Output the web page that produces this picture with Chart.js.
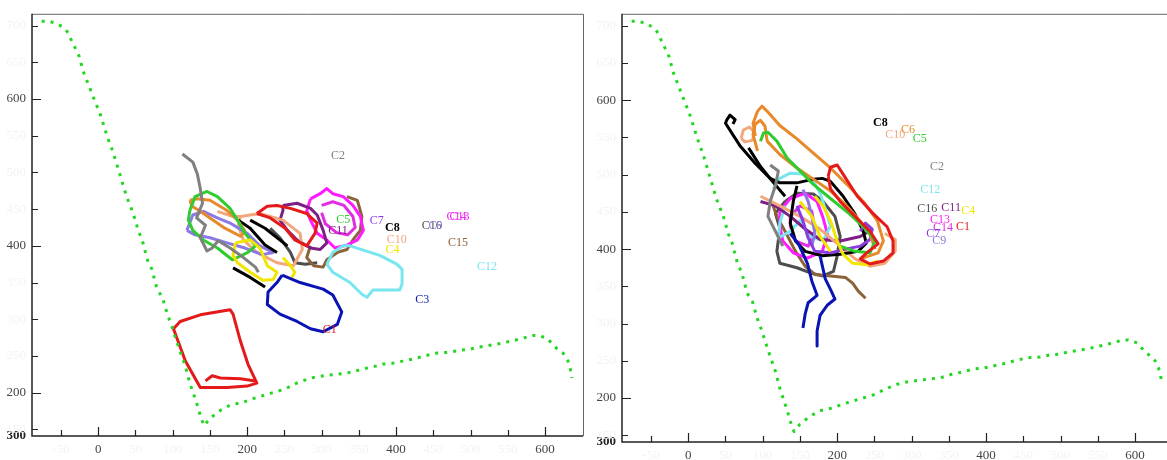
<!DOCTYPE html>
<html>
<head>
<meta charset="utf-8">
<script src="https://cdn.jsdelivr.net/npm/chart.js@4.4.1/dist/chart.umd.min.js"></script>
<style>
  html, body { margin: 0; padding: 0; background: #fff; overflow: hidden; width: 1167px; height: 460px; }
  .panel { position: absolute; top: 0; width: 590px; height: 460px; }
  #left { left: 0; }
  #right { left: 590px; }
</style>
</head>
<body>
<div class="panel" id="left"><canvas id="chartLeft" width="590" height="460"></canvas></div>
<div class="panel" id="right"><canvas id="chartRight" width="590" height="460"></canvas></div>
<script>
// axis ranges and ticks (same for both panels)
const xMin = -89, xMax = 651;
const yMin = 141, yMax = 716;
const xTickValues = [-50, 0, 50, 100, 150, 200, 250, 300, 350, 400, 450, 500, 550, 600];
const xMajor = [0, 200, 400, 600];
const yTickValues = [150, 200, 250, 300, 350, 400, 450, 500, 550, 600, 650, 700];
const yMajor = [200, 400, 600];
const yBottomLabel = '300';

const names = ['C1','C2','C3','C4','C5','C6','C7','C8','C9','C10','C11','C12','C13','C14','C15','C16'];
const colors = ['#e41a1a','#808080','#0a14b4','#f2e600','#2ecc2e','#e8892a','#8a3ce0','#000000',
                '#8c78e6','#f2a77c','#7d1f86','#78e6ee','#ff1aff','#e22ee2','#8c6239','#4d4d4d'];

// green field edge, drawn in both panels
const fieldEdge = [[-76,706],[-67,706],[-60,704],[-53,701],[-46,697],[-42,692],[-38,684],[-26,659],[-20,637],
  [-13,619],[-6,601],[3,578],[12,549],[20,527],[30,494],[38,467],[47,444],[54,420],[59,408],[66,381],[72,368],
  [79,341],[86,330],[93,306],[99,290],[103,277],[110,256],[117,236],[123,213],[133,183],[137,169],[142,155],
  [150,165],[164,176],[177,183],[195,187],[208,192],[231,199],[251,205],[264,212],[282,219],[295,222],[311,224],
  [328,226],[341,228],[354,232],[368,235],[383,239],[395,240],[409,243],[423,246],[442,251],[455,254],[472,255],
  [486,258],[499,259],[510,262],[523,264],[540,267],[553,270],[562,272],[573,275],[584,278],[591,278],[603,274],
  [609,267],[616,260],[624,254],[630,246],[634,232],[636,220]];

// left panel tracks (each is a list of strokes)
const leftC1 = [
  [[213,444],[227,454],[240,455],[258,451],[280,444],[294,431],[291,417],[280,400],[264,408],[251,424],[231,438],[213,444]],
  [[101,287],[110,297],[137,306],[177,313],[181,307],[191,270],[201,239],[213,213],[200,209],[173,207],[137,207],[117,243],[101,287]],
  [[144,216],[153,223],[164,220],[191,219],[211,216]]];
const leftC2 = [[[113,525],[127,514],[133,498],[137,478],[140,458],[132,438],[144,428],[137,411],[146,393],[153,397],[161,407],[177,397],[195,384],[211,371],[215,364]]];
const leftC3 = [[[247,360],[271,350],[302,341],[315,333],[327,310],[321,293],[302,283],[285,287],[267,297],[244,307],[227,320],[228,337],[240,350],[247,360]]];
const leftC4 = [[[184,404],[181,387],[187,377],[204,364],[221,353],[235,354],[240,364],[227,373],[217,397],[204,408],[184,404]],
  [[248,384],[258,373],[264,364],[260,357]]];
const leftC5 = [[[123,448],[130,467],[146,474],[160,467],[177,451],[187,435],[197,417],[211,400],[201,391],[180,381],[160,397],[141,408],[127,421],[121,435],[123,448]]];
const leftC6 = [[[123,462],[133,464],[150,462],[173,448],[187,435],[197,420],[191,413],[170,424],[150,438],[137,447],[126,454],[123,462]]];
const leftC7 = [];
const leftC8 = [[[188,435],[204,424],[224,401],[240,391]], [[204,435],[224,424],[254,400]], [[181,370],[204,357],[224,344]]];
const leftC9 = [[[119,421],[127,442],[141,447],[160,438],[177,431],[200,417],[217,400],[235,391],[220,388],[197,397],[173,404],[150,411],[130,415],[119,421]]];
const leftC10 = [[[160,447],[181,440],[191,440],[217,444],[248,435],[271,417],[274,395],[262,373],[240,377],[213,391],[195,408],[188,427],[191,440]]];
const leftC11 = [[[248,455],[267,458],[285,451],[294,442],[302,421],[307,404],[298,395],[285,397],[267,408],[254,421],[244,435],[248,448],[248,455]]];
const leftC12 = [[[307,375],[315,391],[329,400],[338,400],[378,387],[401,375],[408,368],[408,348],[405,340],[369,340],[361,330],[354,334],[338,350],[315,364],[307,375]]];
const leftC13 = [[[285,464],[298,471],[307,478],[315,471],[329,467],[342,455],[352,440],[356,421],[348,408],[334,401],[318,397],[307,408],[294,417],[285,435],[280,448],[285,464]]];
const leftC14 = [[[300,455],[315,460],[330,455],[342,440],[345,425],[335,415],[320,418],[305,430],[300,445]]];
const leftC15 = [[[334,467],[348,462],[354,440],[352,421],[342,408],[334,395],[321,391],[307,381],[302,371],[289,373],[280,384],[285,400]]];
const leftC16 = [[[231,424],[244,411],[258,391],[264,377],[278,375],[294,377]]];

// right panel tracks
const rightC1 = [[[188,498],[191,510],[200,513],[207,502],[227,471],[248,448],[267,430],[275,411],[275,395],[262,384],[244,380],[231,387],[242,397],[255,407],[244,424],[224,444],[204,464],[191,481],[188,498]]];
const rightC2 = [[[110,513],[121,505],[117,485],[110,464],[107,444],[117,424],[127,404]]];
const rightC3 = [[[137,421],[148,407],[160,381],[166,357],[173,338],[161,328],[157,313],[154,294]],
  [[177,391],[184,360],[191,346],[197,333],[187,325],[177,311],[173,290],[173,270]]];
const rightC4 = [[[170,471],[181,458],[191,438],[200,411],[208,393],[221,381],[240,379],[255,384]], [[150,464],[166,444],[177,417],[191,397]]];
const rightC5 = [[[97,545],[101,556],[107,557],[119,545],[133,522],[150,505],[168,487],[191,468],[217,447],[238,427],[251,411],[244,395],[224,397],[204,404]]];
const rightC6 = [[[90,552],[87,569],[93,585],[99,592],[106,585],[123,566],[146,548],[168,529],[191,509],[213,487],[235,464],[254,438],[262,411],[255,395],[234,388]],
  [[93,532],[87,554],[90,568],[97,573],[103,565],[106,545],[123,527],[146,509],[168,494],[191,478],[211,460],[227,442],[244,420],[251,400]]];
const rightC7 = [[[146,458],[154,438],[161,415],[170,397],[191,395],[211,400],[231,404],[244,413],[247,427],[238,435],[231,424]]];
const rightC8 = [[[60,568],[63,574],[56,580],[52,574],[50,569],[70,538],[90,515],[110,495],[123,489],[146,489],[168,494],[180,495],[191,491],[208,471],[224,447],[235,424],[239,408],[228,397],[204,393],[180,391],[157,397],[144,411],[137,435],[141,464],[146,485]],
  [[81,536],[97,511],[113,491],[130,471]]];
const rightC9 = [[[154,480],[161,464],[166,444],[170,421],[166,404]]];
const rightC10 = [[[71,549],[74,560],[82,564],[89,557],[86,546],[76,544],[71,549]],
  [[97,471],[123,458],[150,444],[177,427],[204,404],[224,387],[244,377],[264,381],[278,397],[278,413],[264,421]]];
const rightC11 = [[[97,464],[117,458],[137,444],[157,427],[177,413],[204,411],[231,417],[248,427]]];
const rightC12 = [[[114,481],[123,495],[137,502],[154,501],[168,491],[177,475],[185,451],[191,431],[181,411],[164,417],[150,438],[137,424],[121,415],[123,435],[130,458]]];
const rightC13 = [[[123,451],[137,468],[157,475],[173,464],[181,442],[187,420],[180,397],[160,388],[141,395],[127,411],[123,431],[123,451]]];
const rightC14 = [[[137,444],[150,458],[166,451],[170,424],[161,404],[144,411],[137,431],[137,444]]];
const rightC15 = [[[114,458],[119,444],[130,424],[144,397],[157,377],[170,366],[191,364],[211,362],[221,354],[228,344],[238,334]]];
const rightC16 = [[[130,464],[146,475],[168,474],[181,464],[197,444],[204,417],[200,391],[195,370],[181,364],[164,368],[146,375],[123,381],[119,397],[123,428],[117,448],[130,464]]];

// track name labels, in data units
const leftLabels = [['C2',322,523],['C8',395,425],['C10',401,408],['C4',395,395],['C16',448,427],['C9',453,427],
  ['C14',481,440],['C13',485,440],['C15',483,404],['C12',522,372],['C3',435,326],['C5',329,435],['C11',322,421],
  ['C7',374,434],['C1',311,286]];
const rightLabels = [['C8',258,570],['C10',278,554],['C6',295,560],['C5',311,548],['C2',334,510],['C12',325,479],
  ['C16',321,454],['C11',353,456],['C4',376,452],['C13',338,439],['C14',342,428],['C1',369,430],['C7',329,421],['C9',337,411]];

const leftTracks = [leftC1,leftC2,leftC3,leftC4,leftC5,leftC6,leftC7,leftC8,leftC9,leftC10,leftC11,leftC12,leftC13,leftC14,leftC15,leftC16];
const rightTracks = [rightC1,rightC2,rightC3,rightC4,rightC5,rightC6,rightC7,rightC8,rightC9,rightC10,rightC11,rightC12,rightC13,rightC14,rightC15,rightC16];

const SERIF = '"Liberation Serif", "DejaVu Serif", serif';
const FAINT = '#f3f3f3';
const toXY = pts => pts.map(p => ({ x: p[0], y: p[1] }));
const tickVal = c => (c && c.tick ? c.tick.value : null);

function buildDatasets(tracks) {
  const sets = [{
    data: toXY(fieldEdge), borderColor: '#22d622', borderWidth: 3,
    borderDash: [3, 6], borderCapStyle: 'butt'
  }];
  tracks.forEach((strokes, i) => {
    strokes.forEach(s => sets.push({ data: toXY(s), borderColor: colors[i], borderWidth: 3 }));
  });
  return sets;
}

const framePlugin = {
  id: 'frame',
  afterDatasetsDraw(chart, args, opts) {
    const { ctx, chartArea: a, scales: { x, y } } = chart;
    ctx.save();
    ctx.strokeStyle = '#666';
    ctx.lineWidth = 1;
    ctx.beginPath();
    ctx.moveTo(a.left, a.top + 0.5);
    ctx.lineTo(a.right + 0.5, a.top + 0.5);
    ctx.lineTo(a.right + 0.5, a.bottom);
    ctx.stroke();

    ctx.strokeStyle = '#222';
    ctx.lineWidth = 1.5;
    ctx.beginPath();
    ctx.moveTo(a.left, a.top);
    ctx.lineTo(a.left, a.bottom);
    ctx.lineTo(a.right, a.bottom);
    ctx.stroke();

    // inward tick marks
    ctx.lineWidth = 1.2;
    ctx.beginPath();
    xTickValues.forEach(v => {
      const px = Math.round(x.getPixelForValue(v)) + 0.5;
      const len = xMajor.includes(v) ? 9 : 6;
      ctx.moveTo(px, a.bottom);
      ctx.lineTo(px, a.bottom - len);
    });
    yTickValues.forEach(v => {
      const py = Math.round(y.getPixelForValue(v)) + 0.5;
      const len = yMajor.includes(v) ? 9 : 6;
      ctx.moveTo(a.left, py);
      ctx.lineTo(a.left + len, py);
    });
    ctx.stroke();

    // track labels
    ctx.textAlign = 'center';
    ctx.textBaseline = 'middle';
    opts.labels.forEach(([name, lx, ly]) => {
      const i = names.indexOf(name);
      ctx.font = (name === 'C8' ? 'bold ' : '') + '12px ' + SERIF;
      ctx.fillStyle = colors[i];
      ctx.fillText(name, x.getPixelForValue(lx), y.getPixelForValue(ly));
    });
    ctx.restore();
  }
};

function makeChart(canvasId, padTop, tracks, labels) {
  const plotHeight = 429;
  return new Chart(document.getElementById(canvasId), {
    type: 'scatter',
    data: { datasets: buildDatasets(tracks) },
    options: {
      responsive: false,
      animation: false,
      showLine: true,
      elements: {
        point: { radius: 0, hoverRadius: 0 },
        line: { tension: 0, borderJoinStyle: 'round', fill: false }
      },
      layout: { padding: { left: 0, right: 7, top: padTop, bottom: 0 } },
      plugins: {
        legend: { display: false },
        tooltip: { enabled: false },
        frame: { labels: labels }
      },
      scales: {
        x: {
          type: 'linear', min: xMin, max: xMax,
          afterBuildTicks: s => { s.ticks = xTickValues.map(v => ({ value: v })); },
          afterFit: s => { s.height = 460 - padTop - plotHeight; },
          grid: { display: false, drawTicks: false },
          border: { display: false },
          ticks: {
            autoSkip: false, maxRotation: 0, padding: 6,
            font: { family: SERIF, size: 13 },
            color: c => xMajor.includes(tickVal(c)) ? '#444' : FAINT
          }
        },
        y: {
          type: 'linear', min: yMin, max: yMax,
          afterBuildTicks: s => { s.ticks = [{ value: yMin }].concat(yTickValues.map(v => ({ value: v }))); },
          afterFit: s => { s.width = 32; },
          grid: { display: false, drawTicks: false },
          border: { display: false },
          ticks: {
            autoSkip: false, padding: 6,
            callback: v => v === yMin ? yBottomLabel : String(v),
            font: c => ({ family: SERIF, size: 13, weight: tickVal(c) === yMin ? 'bold' : 'normal' }),
            color: c => (tickVal(c) === yMin ? '#222' : yMajor.includes(tickVal(c)) ? '#444' : FAINT)
          }
        }
      }
    },
    plugins: [framePlugin]
  });
}

makeChart('chartLeft', 7, leftTracks, leftLabels);
makeChart('chartRight', 13, rightTracks, rightLabels);
</script>
</body>
</html>
